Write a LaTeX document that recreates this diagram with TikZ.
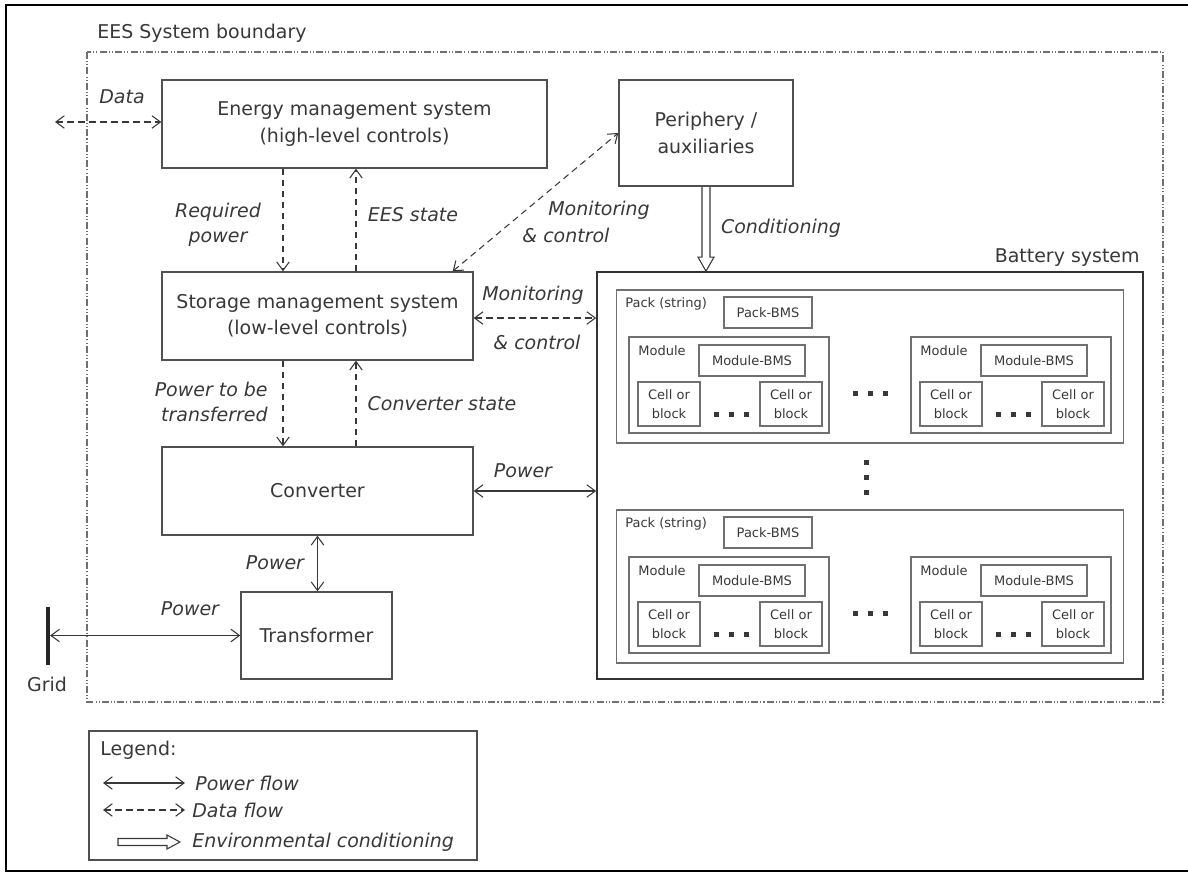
\documentclass[tikz,border=0pt]{standalone}
\usepackage{fontspec}
\setmainfont{DejaVu Sans}
\usetikzlibrary{arrows.meta,calc}
\definecolor{inkgray}{HTML}{383838}
\definecolor{linegray}{HTML}{505050}
\definecolor{softgray}{HTML}{707070}

\begin{document}
\begin{tikzpicture}[x=0.02cm, y=-0.02cm,
    >={Straight Barb[length=1.7mm,width=2.5mm]},
    txt/.style={text=inkgray, inner sep=0pt, font=\fontsize{10.8}{15}\selectfont},
    lbl/.style={text=inkgray, inner sep=0pt, align=center, font=\fontsize{10.8}{14.5}\selectfont\itshape},
    box/.style={draw=linegray, line width=0.8pt, txt, align=center},
    smallbox/.style={draw=softgray, line width=0.6pt, text=inkgray, inner sep=0pt, align=center, font=\fontsize{7.4}{10.5}\selectfont},
    smalltxt/.style={text=inkgray, inner sep=0pt, font=\fontsize{7.4}{10.5}\selectfont},
    powerflow/.style={draw=inkgray, line width=0.6pt},
    dataflow/.style={powerflow, dash pattern=on 1.3mm off 0.9mm},
    condline/.style={draw=inkgray, line width=0.6pt, line join=miter},
    boundary/.style={draw=softgray, line width=0.6pt, dash pattern=on 4pt off 1.2pt on 0.6pt off 1.2pt on 0.6pt off 1.2pt},
    dotrow/.pic={\foreach \d in {-15,0,15} \fill[inkgray] (\d-2.5,-2.5) rectangle ++(5,5);}]
  \useasboundingbox (0,0) rectangle (1188,873);
  \draw[line width=1.6pt] (6,5) rectangle (1200,871);

  % system boundary
  \draw[boundary] (87,52) rectangle (1163,702);
  \node[txt, anchor=west] (bndlbl) at (97,33) {EES System boundary};

  % blocks
  \node[box, minimum width=7.7cm, minimum height=1.76cm] (ems) at (354.5,124) {Energy management system\\(high-level controls)};
  \node[box, minimum width=3.48cm, minimum height=2.12cm] (peri) at (706,133) {Periphery /\\auxiliaries};
  \node[box, minimum width=6.22cm, minimum height=1.76cm] (sms) at (317.5,316) {Storage management system\\(low-level controls)};
  \node[box, minimum width=6.22cm, minimum height=1.76cm] (conv) at (317.5,491) {Converter};
  \node[box, minimum width=3.02cm, minimum height=1.74cm] (trafo) at (316.5,635.5) {Transformer};
  \node[draw=black!80, line width=1pt, minimum width=10.92cm, minimum height=8.14cm, inner sep=0pt] (battery) at (870,475.5) {};
  \node[txt, anchor=base east] (batlbl) at (1140,262) {Battery system};

  % packs, modules, cells
  \foreach \p/\py in {1/366.5,2/586.5}{
    \node[smallbox, minimum width=10.16cm, minimum height=3.06cm] (pack\p) at (870,\py) {};
    \node[smalltxt, anchor=west] (packlbl\p) at (625,\py-63) {Pack (string)};
    \node[smallbox, minimum width=1.76cm, minimum height=0.62cm] (pbms\p) at (768,\py-54) {Pack-BMS};
    \pic at (870,\py+26.5) {dotrow};
    \foreach \m/\mx in {1/729,2/1011}{
      \node[smallbox, minimum width=4cm, minimum height=1.92cm] (mod\p\m) at (\mx,\py+18.5) {};
      \node[smalltxt, anchor=west] (modlbl\p\m) at (\mx-91,\py-15.5) {Module};
      \node[smallbox, minimum width=2.12cm, minimum height=0.62cm] (mbms\p\m) at (\mx+23,\py-6) {Module-BMS};
      \node[smallbox, minimum width=1.24cm, minimum height=0.88cm] (cella\p\m) at (\mx-60,\py+37.5) {Cell or\\block};
      \node[smallbox, minimum width=1.24cm, minimum height=0.88cm] (cellb\p\m) at (\mx+62,\py+37.5) {Cell or\\block};
      \pic at (\mx+2,\py+47.5) {dotrow};
    }
  }
  \pic[rotate=90] at (866,477) {dotrow};

  % grid
  \node[fill=black!85, minimum width=0.07cm, minimum height=1.16cm, inner sep=0pt] (grid) at (48,636) {};
  \node[txt] (gridlbl) at (47,684) {Grid};

  % connectors
  \coordinate (dataout) at (55,122);
  \coordinate (downx) at (283,0);
  \coordinate (upx) at (356,0);
  \coordinate (monrow) at (0,318);
  \coordinate (condtip) at (peri.south |- battery.north);
  \draw[dataflow,<->] (dataout) -- (dataout -| ems.west);
  \draw[dataflow,->] (ems.south -| downx) -- (sms.north -| downx);
  \draw[dataflow,->] (sms.north -| upx) -- (ems.south -| upx);
  \draw[dataflow,->] (sms.south -| downx) -- (conv.north -| downx);
  \draw[dataflow,->] (conv.north -| upx) -- (sms.south -| upx);
  \draw[dataflow,<->] ([xshift=-0.42cm]sms.north east) -- (peri.west);
  \draw[dataflow,<->] (sms.east |- monrow) -- (battery.west |- monrow);
  \draw[powerflow,<->] (conv.east) -- (conv.east -| battery.west);
  \draw[powerflow,<->] (conv.south) -- (conv.south |- trafo.north);
  \draw[powerflow,<->] (grid.east |- trafo.west) -- (trafo.west);
  \draw[condline] ($(peri.south)+(-4,0)$) -- ($(condtip)+(-4,-14)$) -- ($(condtip)+(-8,-14)$)
    -- (condtip) -- ($(condtip)+(8,-14)$) -- ($(condtip)+(4,-14)$) -- ($(peri.south)+(4,0)$);

  % labels
  \node[lbl] (datalbl) at (122,97) {Data};
  \node[lbl] (reqlbl) at (218,225) {Required\\power};
  \node[lbl] (eeslbl) at (413,215) {EES state};
  \node[lbl] (monlbla) at (599,210) {Monitoring};
  \node[lbl] (monlblb) at (566,235) {\& control};
  \node[lbl] (condlbl) at (781,228) {Conditioning};
  \node[lbl] (monlblc) at (533,295) {Monitoring};
  \node[lbl] (monlbld) at (537,342) {\& control};
  \node[lbl, align=right, anchor=east] (ptblbl) at (268,402) {Power to be\\transferred};
  \node[lbl] (cstlbl) at (442,404) {Converter state};
  \node[lbl] (pwrlbla) at (523,471) {Power};
  \node[lbl] (pwrlblb) at (275,563) {Power};
  \node[lbl] (pwrlblc) at (190,609) {Power};

  % legend
  \node[draw=linegray, line width=0.8pt, minimum width=7.76cm, minimum height=2.58cm, inner sep=0pt] (legend) at (283,795.5) {};
  \node[txt, anchor=west] (legtitle) at (100,750) {Legend:};
  \coordinate (lgpa) at (103,783);
  \coordinate (lgpb) at (185,783);
  \coordinate (lgda) at (103,810);
  \coordinate (lgdb) at (185,810);
  \coordinate (lgca) at (118,842);
  \coordinate (lgcb) at (180,842);
  \draw[powerflow,<->] (lgpa) -- (lgpb);
  \draw[dataflow,<->] (lgda) -- (lgdb);
  \draw[condline] ($(lgca)+(0,-3.5)$) -- ($(lgcb)+(-13,-3.5)$) -- ($(lgcb)+(-13,-7)$) -- (lgcb)
    -- ($(lgcb)+(-13,7)$) -- ($(lgcb)+(-13,3.5)$) -- ($(lgca)+(0,3.5)$) -- cycle;
  \node[lbl, anchor=west] (lgptxt) at (195,783) {Power flow};
  \node[lbl, anchor=west] (lgdtxt) at (192,810) {Data flow};
  \node[lbl, anchor=west] (lgctxt) at (192,842) {Environmental conditioning};
\end{tikzpicture}
\end{document}
